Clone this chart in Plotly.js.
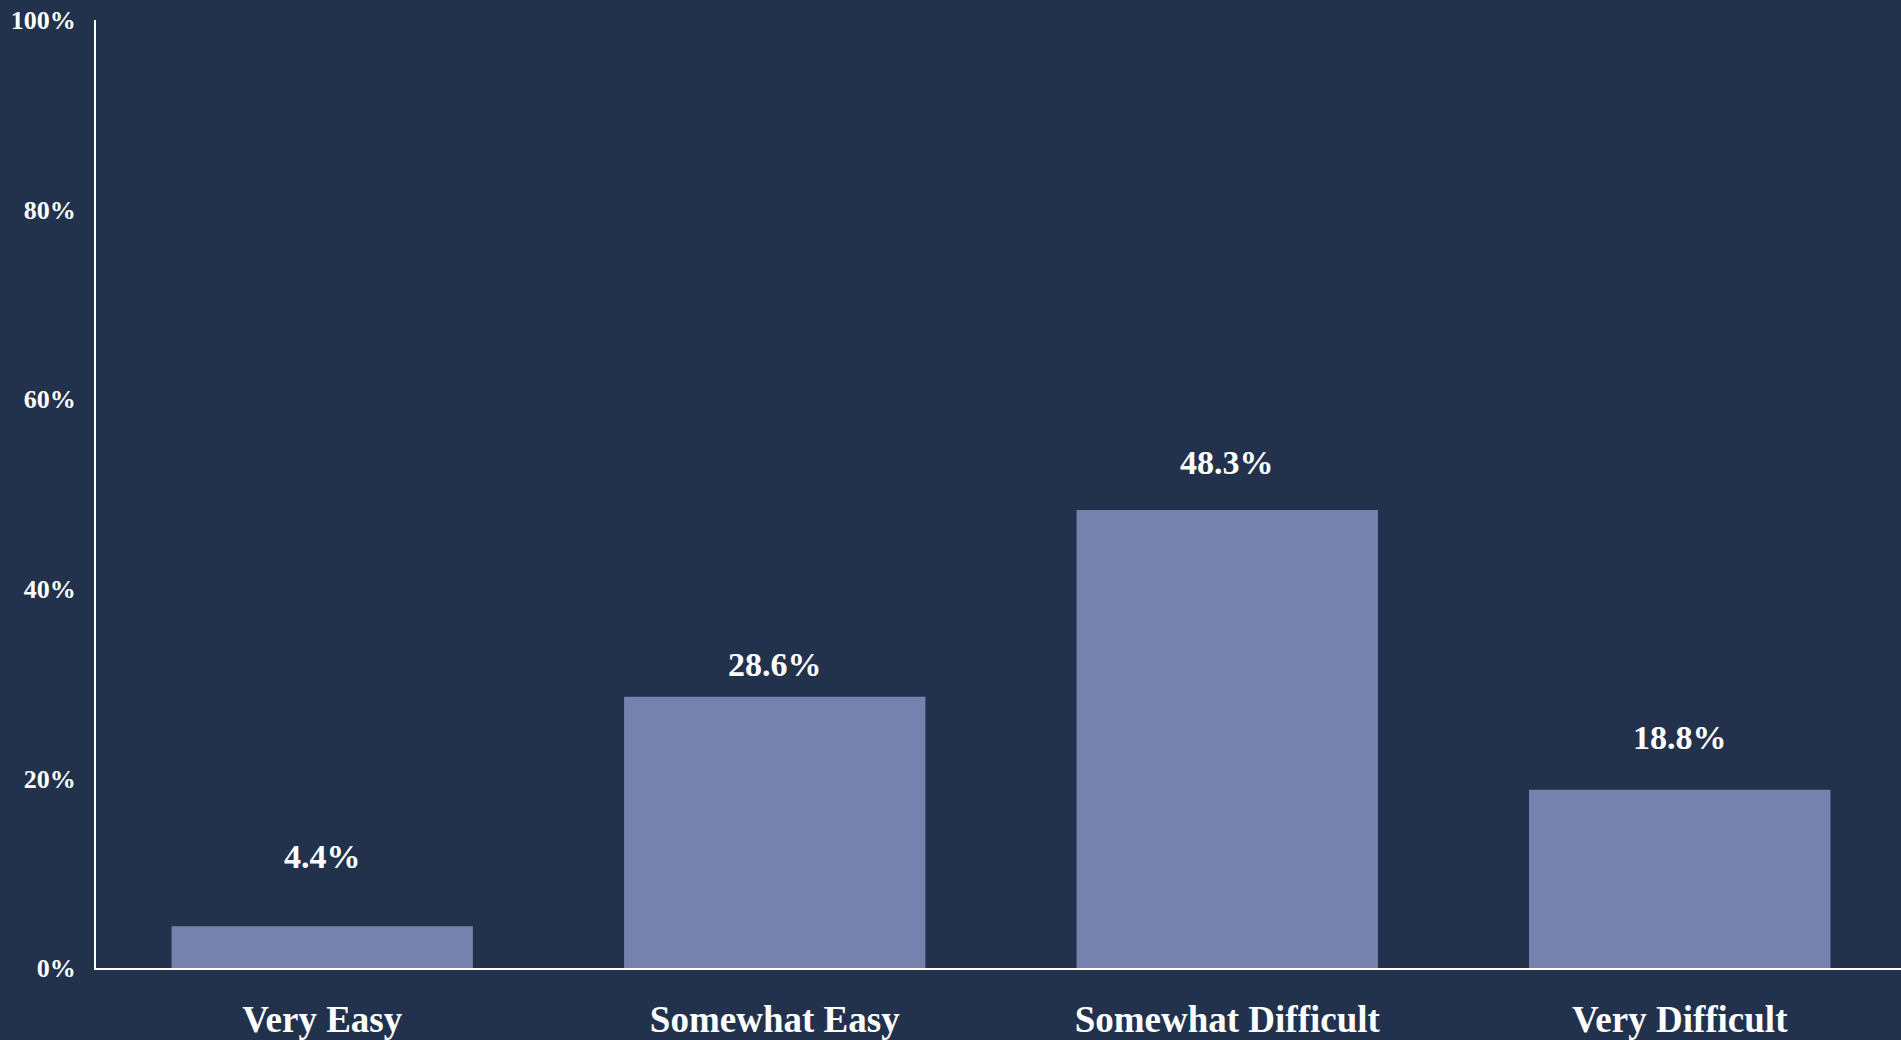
<!DOCTYPE html>
<html>
<head>
<meta charset="utf-8">
<script src="https://cdn.plot.ly/plotly-3.0.1.min.js"></script>
<style>
  html, body { margin: 0; padding: 0; background: #22324d; overflow: hidden; width: 1901px; height: 1040px; }
  #chart { position: absolute; left: 0; top: -100px; width: 2000px; height: 1200px; }
</style>
</head>
<body>
<div id="chart"></div>
<script>
const categories = ["Very Easy", "Somewhat Easy", "Somewhat Difficult", "Very Difficult"];
const values = [4.4, 28.6, 48.3, 18.8];
const labelY = [11.8, 32.0, 53.3, 24.3];
const yTickVals = [0, 20, 40, 60, 80, 100];
const yTickText = ["0%", "20%", "40%", "60%", "80%", "100%"];

const BG = "#22324d";
const BAR = "#7681ad";
const FONT = "'Liberation Serif', 'DejaVu Serif', serif";

const trace = {
  type: "bar",
  x: categories,
  y: values,
  marker: { color: BAR, line: { width: 0 } },
  hoverinfo: "x+y"
};

const annotations = categories.map((c, i) => ({
  x: c,
  y: labelY[i],
  xref: "x",
  yref: "y",
  text: values[i].toFixed(1) + "%",
  showarrow: false,
  yanchor: "middle",
  xanchor: "center",
  font: { family: FONT, size: 34, color: "#ffffff", weight: "bold" }
}));

const layout = {
  width: 2000,
  height: 1200,
  paper_bgcolor: BG,
  plot_bgcolor: BG,
  margin: { l: 96, r: 94, t: 120, b: 132 },
  bargap: 0.334,
  showlegend: false,
  xaxis: {
    type: "category",
    showline: true,
    linecolor: "#ffffff",
    linewidth: 2,
    showgrid: false,
    zeroline: false,
    ticks: "",
    ticklabelstandoff: 18,
    tickfont: { family: FONT, size: 37, color: "#ffffff", weight: "bold" }
  },
  yaxis: {
    range: [0, 100],
    tickvals: yTickVals,
    ticktext: yTickText,
    showline: true,
    linecolor: "#ffffff",
    linewidth: 2,
    showgrid: false,
    zeroline: false,
    ticks: "",
    ticklabelstandoff: 13,
    tickfont: { family: FONT, size: 26, color: "#ffffff", weight: "bold" }
  },
  annotations: annotations
};

Plotly.newPlot("chart", [trace], layout, { displayModeBar: false, staticPlot: true });
</script>
</body>
</html>
